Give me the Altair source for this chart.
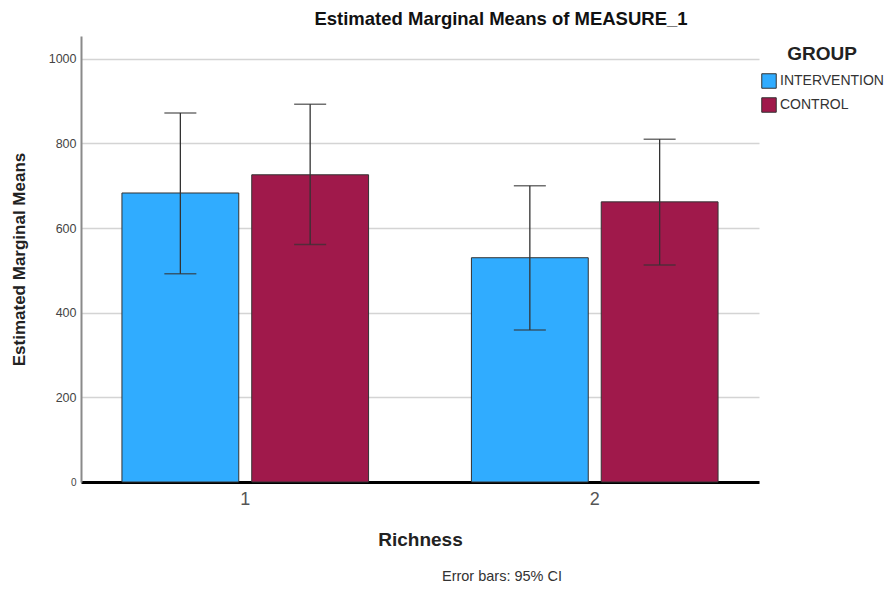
import altair as alt
import pandas as pd

# ---- data ----
richness = ["1", "1", "2", "2"]
groups = ["INTERVENTION", "CONTROL", "INTERVENTION", "CONTROL"]
means = [683, 726, 530, 662]
ci_low = [492, 561, 359, 513]
ci_high = [872, 893, 700, 810]

group_order = ["INTERVENTION", "CONTROL"]
group_colors = ["#30ACFF", "#A0194B"]
y_ticks = [0, 200, 400, 600, 800, 1000]

df = pd.DataFrame({
    "Richness": richness,
    "GROUP": groups,
    "mean": means,
    "lo": ci_low,
    "hi": ci_high,
})

FONT = "Liberation Sans"

x_enc = alt.X(
    "Richness:N",
    scale=alt.Scale(paddingInner=0.2, paddingOuter=0.07),
    axis=alt.Axis(
        title="Richness", labelAngle=0, ticks=False, labelPadding=8,
        labelFontSize=18, labelColor="#555555", labelFont=FONT,
        titleFontSize=19, titleFont=FONT, titleFontWeight="bold", titleColor="#222222",
        titlePadding=22, domainColor="#000000", domainWidth=3, grid=False,
    ),
)
xo_enc = alt.XOffset(
    "GROUP:N", sort=group_order,
    scale=alt.Scale(paddingInner=0.1, paddingOuter=0.127),
)
y_scale = alt.Scale(domain=[0, 1054], nice=False, zero=True)

bars = alt.Chart(df).mark_bar(stroke="#333333", strokeWidth=1).encode(
    x=x_enc,
    xOffset=xo_enc,
    y=alt.Y(
        "mean:Q", scale=y_scale,
        axis=alt.Axis(
            title="Estimated Marginal Means", values=y_ticks, ticks=False, format="d",
            labelPadding=5, labelFont=FONT, labelColor="#444444",
            labelFontSize={"expr": "datum.value == 0 ? 10 : 12.5"},
            titleFont=FONT, titleFontSize=17, titleFontWeight="bold", titleColor="#222222",
            titlePadding=20, domainColor="#8a8a8a", domainWidth=2,
            grid=True, gridColor="#d4d4d4", gridWidth=1.5,
        ),
    ),
    color=alt.Color(
        "GROUP:N", sort=group_order,
        scale=alt.Scale(domain=group_order, range=group_colors),
        legend=alt.Legend(
            title="GROUP", orient="none", legendX=680, legendY=9,
            symbolType="square", symbolSize=210, symbolStrokeColor="#333333",
            symbolStrokeWidth=1, symbolOpacity=1, labelOffset=3,
            labelFontSize=14, labelFont=FONT, labelColor="#333333", labelLimit=200,
            titleFontSize=19, titleFont=FONT, titleFontWeight="bold", titleColor="#222222",
            titleAnchor="middle", titlePadding=9, rowPadding=4, padding=0,
        ),
    ),
)

err = alt.Chart(df).mark_rule(color="#333333", strokeWidth=1.3).encode(
    x="Richness:N", xOffset=alt.XOffset("GROUP:N", sort=group_order),
    y=alt.Y("lo:Q", scale=y_scale), y2="hi:Q",
)
cap_lo = alt.Chart(df).mark_tick(color="#333333", thickness=1.5, size=32).encode(
    x="Richness:N", xOffset=alt.XOffset("GROUP:N", sort=group_order),
    y=alt.Y("lo:Q", scale=y_scale),
)
cap_hi = alt.Chart(df).mark_tick(color="#333333", thickness=1.5, size=32).encode(
    x="Richness:N", xOffset=alt.XOffset("GROUP:N", sort=group_order),
    y=alt.Y("hi:Q", scale=y_scale),
)

note = alt.Chart(pd.DataFrame({"t": ["Error bars: 95% CI"]})).mark_text(
    font=FONT, fontSize=14.5, color="#333333", align="center", baseline="middle",
).encode(text="t:N", x=alt.value(421), y=alt.value(541))

chart = alt.layer(bars, err, cap_lo, cap_hi, note).properties(
    width=678, height=446,
    padding={"left": 2, "top": 1, "right": 0, "bottom": 0},
    title=alt.TitleParams(
        "Estimated Marginal Means of MEASURE_1", font=FONT, fontSize=18.5,
        fontWeight="bold", color="#111111", anchor="middle", frame="group",
        dx=81, offset=8,
    ),
).configure_view(stroke=None)

chart.save("out.html", embed_options={"renderer": "svg", "actions": False})
